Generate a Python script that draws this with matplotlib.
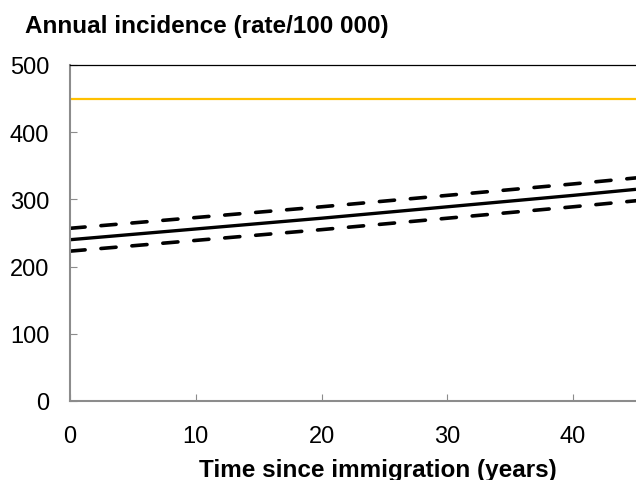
import numpy as np
import matplotlib
matplotlib.use("Agg")
import matplotlib.pyplot as plt

plt.rcParams['font.family'] = ['Liberation Sans', 'DejaVu Sans']

# values
years = [0, 10, 20, 30, 40, 45]
rate_mid = [240, 256, 272, 289, 306, 315]
rate_upper = [257, 273, 289, 306, 323, 332]
rate_lower = [223, 239, 255, 272, 289, 298]
reference_level = 450

fig = plt.figure(figsize=(6.36, 4.81), dpi=100)
ax = fig.add_axes([70 / 636, 1 - 402 / 481, 566 / 636, 336 / 481])

ax.axhline(reference_level, color='#FFC000', lw=1.6)
ax.plot(years, rate_mid, color='black', lw=2.4, solid_capstyle='butt')
for band in (rate_upper, rate_lower):
    ax.plot(years, band, color='black', lw=2.6, dashes=(4.2, 4.4),
            dash_capstyle='round')

ax.set_xlim(0, 45)
ax.set_ylim(0, 500)
ax.set_xticks([0, 10, 20, 30, 40])
ax.set_yticks([0, 100, 200, 300, 400, 500])

ax.spines['right'].set_visible(False)
ax.spines['top'].set_color('black')
ax.spines['top'].set_linewidth(0.9)
for s in ('left', 'bottom'):
    ax.spines[s].set_color('#8c8c8c')
    ax.spines[s].set_linewidth(1.5)

ax.tick_params(axis='x', direction='in', length=5, width=0.8, color='#8c8c8c',
               pad=17, labelsize=17)
ax.tick_params(axis='y', direction='in', length=5, width=0.8, color='#8c8c8c',
               pad=15, labelsize=17)

fig.text(378 / 636, 1 - 477 / 481, 'Time since immigration (years)',
         fontsize=17.5, fontweight='bold', ha='center', va='baseline')
fig.text(25 / 636, 1 - 33 / 481, 'Annual incidence (rate/100 000)',
         fontsize=17.5, fontweight='bold', ha='left', va='baseline')

fig.savefig('out.png', dpi=100)
